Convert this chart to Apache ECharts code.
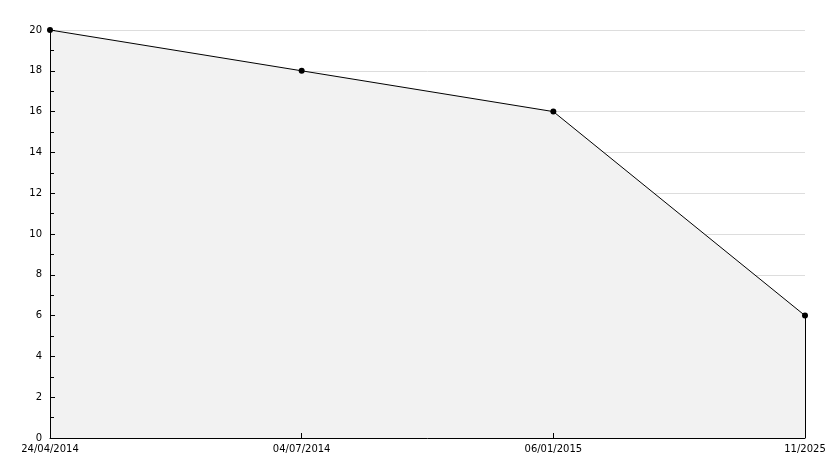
<!DOCTYPE html>
<html>
<head>
<meta charset="utf-8">
<script src="https://cdn.jsdelivr.net/npm/echarts@6/dist/echarts.min.js"></script>
<style>
  html, body { margin: 0; padding: 0; background: #fff; }
  #chart { width: 834px; height: 468px; }
</style>
</head>
<body>
<div id="chart"></div>
<script>
// data
var dates = ['24/04/2014', '04/07/2014', '06/01/2015', '11/2025'];
var values = [20, 18, 16, 6];

var chart = echarts.init(document.getElementById('chart'));
var labelFont = { fontFamily: 'DejaVu Sans', fontSize: 10, color: '#000' };

chart.setOption({
    animation: false,
    grid: { left: 50, right: 29, top: 30, bottom: 30 },
    xAxis: [{
        // labels, drawn under the area
        type: 'category',
        data: dates,
        boundaryGap: false,
        axisLine: { show: false },
        axisTick: { show: false },
        axisLabel: Object.assign({ margin: 6 }, labelFont),
        splitLine: { show: false }
    }, {
        // line + ticks on top of the area
        type: 'category',
        data: dates,
        position: 'bottom',
        boundaryGap: false,
        z: 5,
        axisLine: { lineStyle: { color: '#000', width: 1 } },
        axisTick: { inside: true, length: 5, lineStyle: { color: '#000' } },
        axisLabel: { show: false },
        splitLine: { show: false }
    }],
    yAxis: [{
        type: 'value',
        min: 0,
        max: 20,
        interval: 2,
        axisLine: { show: false },
        axisTick: { show: false },
        axisLabel: Object.assign({ margin: 8 }, labelFont),
        splitLine: { show: true, lineStyle: { color: '#dddddd', width: 1 } }
    }, {
        type: 'value',
        min: 0,
        max: 20,
        interval: 2,
        position: 'left',
        z: 5,
        axisLine: { show: true, lineStyle: { color: '#000', width: 1 } },
        axisTick: { show: true, inside: true, length: 5, lineStyle: { color: '#000' } },
        minorTick: { show: true, splitNumber: 2, length: 4, lineStyle: { color: '#000' } },
        axisLabel: { show: false },
        splitLine: { show: false }
    }],
    series: [{
        type: 'line',
        data: values,
        symbol: 'circle',
        symbolSize: 6,
        itemStyle: { color: '#000' },
        lineStyle: { color: '#000', width: 1 },
        areaStyle: { color: '#f2f2f2', opacity: 1 },
        markLine: {
            silent: true,
            symbol: 'none',
            label: { show: false },
            lineStyle: { color: '#000', width: 1, type: 'solid' },
            data: [[{ coord: [dates[3], 0] }, { coord: [dates[3], values[3]] }]]
        }
    }]
});
</script>
</body>
</html>
